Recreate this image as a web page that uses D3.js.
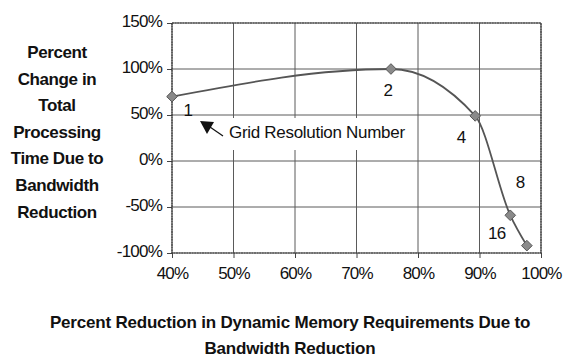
<!DOCTYPE html>
<html><head><meta charset="utf-8">
<script src="https://cdn.jsdelivr.net/npm/d3@7"></script>
<style>body{margin:0;background:#fff}svg{display:block}text{font-family:"Liberation Sans",Arial,sans-serif}</style>
</head><body>
<svg id="c" width="566" height="358"></svg>
<script>
const xValues = [0.40, 0.756, 0.893, 0.95, 0.977];
const yValues = [0.70, 1.00, 0.49, -0.59, -0.92];
const pointLabels = ["1", "2", "4", "8", "16"];
const xTicks = [0.4, 0.5, 0.6, 0.7, 0.8, 0.9, 1.0];
const yTicks = [-1, -0.5, 0, 0.5, 1, 1.5];
const yTitleLines = ["Percent", "Change in", "Total", "Processing", "Time Due to", "Bandwidth", "Reduction"];
const xTitleLines = ["Percent Reduction in Dynamic Memory Requirements Due to", "Bandwidth Reduction"];
const annotationText = "Grid Resolution Number";
// label offsets (style, px)
const labelOffsets = [[16, 13], [-3, 21], [-14, 21], [10, -33], [-30, -13]];

const svg = d3.select("#c");
const L = 172, R = 541, T = 23, B = 253;
const x = d3.scaleLinear().domain([0.4, 1.0]).range([L, R]);
const y = d3.scaleLinear().domain([-1, 1.5]).range([B, T]);
const pct = d => Math.round(d * 100) + "%";

// gridlines
svg.append("g").selectAll("line").data(xTicks).join("line")
  .attr("x1", d => x(d)).attr("x2", d => x(d)).attr("y1", T).attr("y2", B)
  .attr("stroke", "#5a5a5a").attr("stroke-width", 1);
svg.append("g").selectAll("line").data(yTicks).join("line")
  .attr("x1", L).attr("x2", R).attr("y1", d => y(d)).attr("y2", d => y(d))
  .attr("stroke", "#5a5a5a").attr("stroke-width", 1);

// axes
const yAxis = svg.append("g").attr("transform", `translate(${L},0)`)
  .call(d3.axisLeft(y).tickValues(yTicks).tickFormat(pct).tickSize(5).tickPadding(5));
const xAxis = svg.append("g").attr("transform", `translate(0,${B})`)
  .call(d3.axisBottom(x).tickValues(xTicks).tickFormat(pct).tickSize(5).tickPadding(9));
[yAxis, xAxis].forEach(g => {
  g.select(".domain").remove();
  g.selectAll(".tick line").attr("stroke", "#444");
  g.selectAll(".tick text").attr("font-size", 17).attr("fill", "#111")
    .attr("font-family", "Liberation Sans, Arial, sans-serif").attr("letter-spacing", "-0.8px");
});
yAxis.selectAll(".tick text").attr("dy", "0.2em");

// border
svg.append("rect").attr("x", L).attr("y", T).attr("width", R - L).attr("height", B - T)
  .attr("fill", "none").attr("stroke", "#333").attr("stroke-width", 1.2).attr("stroke-dasharray", "2,0.6");

// annotation with white box
const ax = x(0.4), ay = y(0.5);
svg.append("rect").attr("x", ax + 54).attr("y", ay + 3).attr("width", 182).attr("height", 32).attr("fill", "#fff");
svg.append("path")
  .attr("d", `M${ax + 28},${ay + 6} L${ax + 42},${ay + 7} L${ax + 35},${ay + 19} Z`)
  .attr("fill", "#111");
svg.append("line").attr("x1", ax + 38).attr("y1", ay + 12).attr("x2", ax + 51).attr("y2", ay + 21)
  .attr("stroke", "#111").attr("stroke-width", 1.2);
svg.append("text").attr("x", ax + 57).attr("y", ay + 23).text(annotationText)
  .attr("font-size", 17).attr("letter-spacing", "-0.3px").attr("fill", "#111");

// line
const pts = xValues.map((v, i) => [x(v), y(yValues[i])]);
svg.append("path").attr("d", d3.line().curve(d3.curveMonotoneX)(pts))
  .attr("fill", "none").attr("stroke", "#555").attr("stroke-width", 1.8);

// markers
svg.append("g").selectAll("path").data(pts).join("path")
  .attr("d", d3.symbol().type(d3.symbolDiamond2).size(72))
  .attr("transform", d => `translate(${d[0]},${d[1]})`)
  .attr("fill", "#8a8a8a").attr("stroke", "#555").attr("stroke-width", 1);

// data labels
svg.append("g").selectAll("text").data(pts).join("text")
  .attr("x", (d, i) => d[0] + labelOffsets[i][0]).attr("y", (d, i) => d[1] + labelOffsets[i][1])
  .attr("dy", "0.35em").attr("text-anchor", "middle").attr("font-size", 17).attr("fill", "#111")
  .attr("letter-spacing", "-0.5px").text((d, i) => pointLabels[i]);

// y title
svg.append("g").selectAll("text").data(yTitleLines).join("text")
  .attr("x", 57).attr("y", (d, i) => 52 + i * 26.6).attr("dy", "0.35em")
  .attr("text-anchor", "middle").attr("font-size", 17).attr("font-weight", "bold")
  .attr("letter-spacing", "-0.4px").attr("fill", "#111").text(d => d);

// x title
svg.append("g").selectAll("text").data(xTitleLines).join("text")
  .attr("x", 290).attr("y", (d, i) => 322 + i * 26).attr("dy", "0.35em")
  .attr("text-anchor", "middle").attr("font-size", 17).attr("font-weight", "bold")
  .attr("letter-spacing", "-0.2px").attr("fill", "#111").text(d => d);
</script>
</body></html>
